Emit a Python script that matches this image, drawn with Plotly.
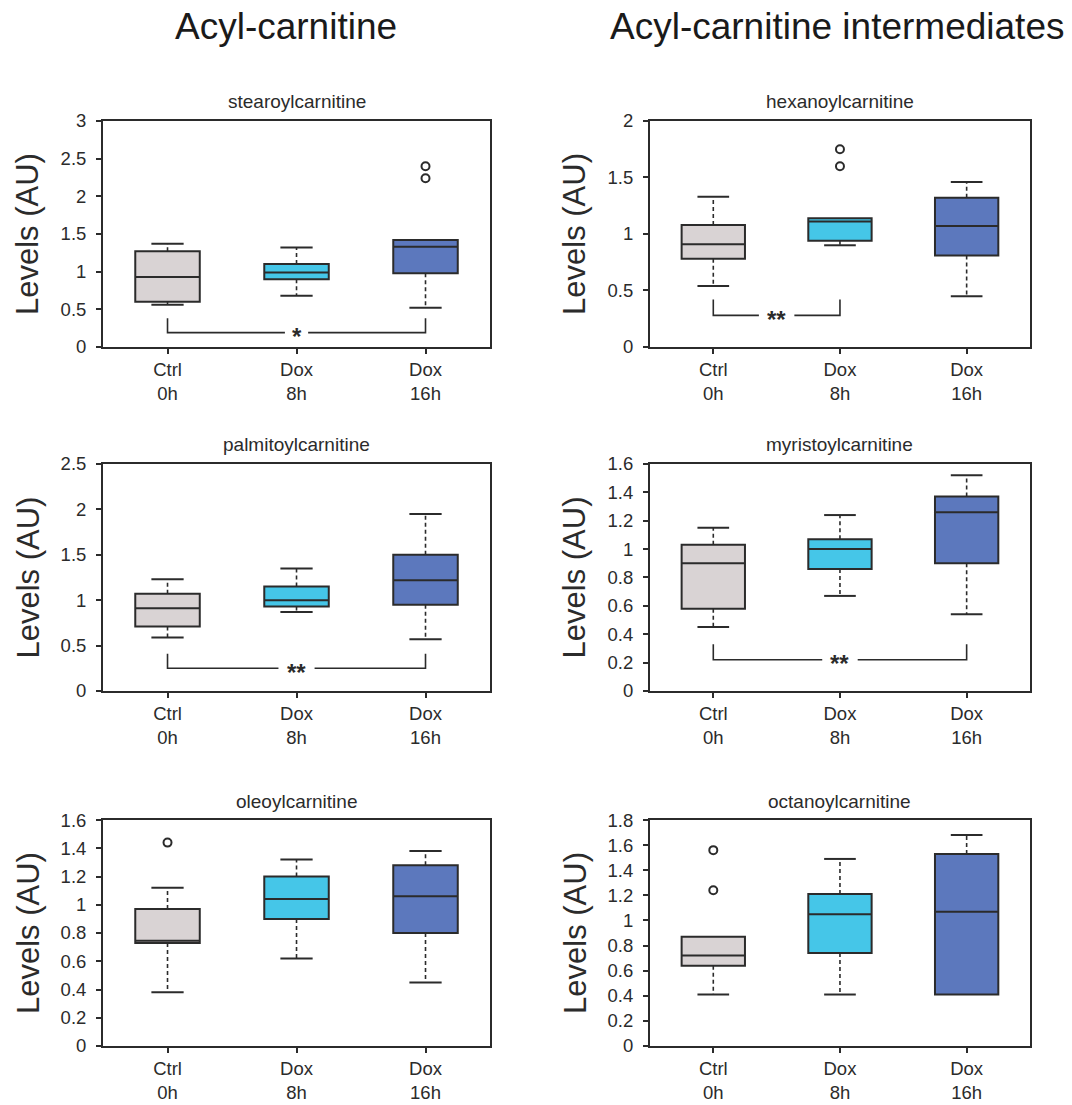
import plotly.graph_objects as go

# ---------------- data ----------------
groups = ["Ctrl<br>0h", "Dox<br>8h", "Dox<br>16h"]
panel_names = ["stearoylcarnitine", "hexanoylcarnitine", "palmitoylcarnitine",
               "myristoylcarnitine", "oleoylcarnitine", "octanoylcarnitine"]

stearoyl_q1 = [0.60, 0.90, 0.98]
stearoyl_med = [0.93, 0.99, 1.33]
stearoyl_q3 = [1.27, 1.10, 1.42]
stearoyl_lo = [0.56, 0.68, 0.52]
stearoyl_hi = [1.37, 1.32, 1.42]
stearoyl_out = [[], [], [2.40, 2.24]]

hexanoyl_q1 = [0.78, 0.94, 0.81]
hexanoyl_med = [0.91, 1.11, 1.07]
hexanoyl_q3 = [1.08, 1.14, 1.32]
hexanoyl_lo = [0.54, 0.90, 0.45]
hexanoyl_hi = [1.33, 1.14, 1.46]
hexanoyl_out = [[], [1.75, 1.60], []]

palmitoyl_q1 = [0.71, 0.93, 0.95]
palmitoyl_med = [0.91, 1.00, 1.22]
palmitoyl_q3 = [1.07, 1.15, 1.50]
palmitoyl_lo = [0.59, 0.87, 0.57]
palmitoyl_hi = [1.23, 1.35, 1.95]
palmitoyl_out = [[], [], []]

myristoyl_q1 = [0.58, 0.86, 0.90]
myristoyl_med = [0.90, 1.00, 1.26]
myristoyl_q3 = [1.03, 1.07, 1.37]
myristoyl_lo = [0.45, 0.67, 0.54]
myristoyl_hi = [1.15, 1.24, 1.52]
myristoyl_out = [[], [], []]

oleoyl_q1 = [0.73, 0.90, 0.80]
oleoyl_med = [0.745, 1.04, 1.06]
oleoyl_q3 = [0.97, 1.20, 1.28]
oleoyl_lo = [0.38, 0.62, 0.45]
oleoyl_hi = [1.12, 1.32, 1.38]
oleoyl_out = [[1.44], [], []]

octanoyl_q1 = [0.64, 0.74, 0.41]
octanoyl_med = [0.72, 1.05, 1.07]
octanoyl_q3 = [0.87, 1.21, 1.53]
octanoyl_lo = [0.41, 0.41, 0.41]
octanoyl_hi = [0.87, 1.49, 1.68]
octanoyl_out = [[1.56, 1.24], [], []]

y_max = [3, 2, 2.5, 1.6, 1.6, 1.8]
y_dtick = [0.5, 0.5, 0.5, 0.2, 0.2, 0.2]

# significance brackets: (panel, group a, group b, label, tick top, line level)
sig_panel = [0, 1, 2, 3]
sig_a = [0, 0, 0, 0]
sig_b = [2, 1, 2, 2]
sig_label = ["*", "**", "**", "**"]
sig_top = [0.38, 0.42, 0.41, 0.33]
sig_line = [0.19, 0.28, 0.25, 0.22]

panels = [
    (stearoyl_q1, stearoyl_med, stearoyl_q3, stearoyl_lo, stearoyl_hi, stearoyl_out),
    (hexanoyl_q1, hexanoyl_med, hexanoyl_q3, hexanoyl_lo, hexanoyl_hi, hexanoyl_out),
    (palmitoyl_q1, palmitoyl_med, palmitoyl_q3, palmitoyl_lo, palmitoyl_hi, palmitoyl_out),
    (myristoyl_q1, myristoyl_med, myristoyl_q3, myristoyl_lo, myristoyl_hi, myristoyl_out),
    (oleoyl_q1, oleoyl_med, oleoyl_q3, oleoyl_lo, oleoyl_hi, oleoyl_out),
    (octanoyl_q1, octanoyl_med, octanoyl_q3, octanoyl_lo, octanoyl_hi, octanoyl_out),
]

# ---------------- styles ----------------
box_colors = ["#D9D3D4", "#45C6E8", "#5C78BD"]
ink = "#2B2B2B"
FONT = "Arial, Liberation Sans, sans-serif"
BOX_W = 0.5
CAP_W = 0.25
GAP_PER_STAR = 0.05  # half-gap in category units per star

xdom = [[0.0961, 0.4571], [0.6063, 0.9608]]
ydom = [[0.6860, 0.8905], [0.3747, 0.5801], [0.0534, 0.2579]]

fig = go.Figure()
annotations = []

for k, (q1, med, q3, lo, hi, outs) in enumerate(panels):
    xa = "x" if k == 0 else f"x{k+1}"
    ya = "y" if k == 0 else f"y{k+1}"
    for i in range(3):
        fig.add_trace(go.Box(
            x=[i], q1=[q1[i]], median=[med[i]], q3=[q3[i]],
            lowerfence=[q1[i]], upperfence=[q3[i]],
            width=BOX_W, whiskerwidth=0, fillcolor=box_colors[i],
            line=dict(color=ink, width=2), boxpoints=False,
            xaxis=xa, yaxis=ya, showlegend=False, hoverinfo="skip"))
        for a, b in ((q3[i], hi[i]), (q1[i], lo[i])):
            if abs(b - a) > 1e-9:
                fig.add_trace(go.Scatter(
                    x=[i, i], y=[a, b], mode="lines",
                    line=dict(color=ink, width=1.6, dash="4px,3px"),
                    xaxis=xa, yaxis=ya, showlegend=False, hoverinfo="skip"))
                fig.add_trace(go.Scatter(
                    x=[i - CAP_W / 2, i + CAP_W / 2], y=[b, b], mode="lines",
                    line=dict(color=ink, width=2),
                    xaxis=xa, yaxis=ya, showlegend=False, hoverinfo="skip"))
        if outs[i]:
            fig.add_trace(go.Scatter(
                x=[i] * len(outs[i]), y=outs[i], mode="markers",
                marker=dict(symbol="circle-open", size=8, color=ink,
                            line=dict(width=2, color=ink)),
                xaxis=xa, yaxis=ya, showlegend=False, hoverinfo="skip"))

# significance brackets
for p, a, b, lab, top, lvl in zip(sig_panel, sig_a, sig_b, sig_label, sig_top, sig_line):
    xa = "x" if p == 0 else f"x{p+1}"
    ya = "y" if p == 0 else f"y{p+1}"
    mid = (a + b) / 2
    g = GAP_PER_STAR * (len(lab) + 0.8)
    fig.add_trace(go.Scatter(
        x=[a, a, mid - g, None, mid + g, b, b],
        y=[top, lvl, lvl, None, lvl, lvl, top], mode="lines",
        line=dict(color=ink, width=1.6),
        xaxis=xa, yaxis=ya, showlegend=False, hoverinfo="skip"))
    annotations.append(dict(
        x=mid, y=lvl, xref=xa, yref=ya, text=f"<b>{lab}</b>", showarrow=False,
        xanchor="center", yanchor="middle",
        font=dict(family=FONT, size=24, color=ink), yshift=-4))

layout = dict(
    template="none",
    width=1072, height=1105, autosize=False,
    plot_bgcolor="white", paper_bgcolor="white",
    margin=dict(l=0, r=0, t=0, b=0, pad=0), font=dict(family=FONT, color=ink),
    showlegend=False,
)

for k in range(6):
    r, c = k // 2, k % 2
    xn = "xaxis" if k == 0 else f"xaxis{k+1}"
    yn = "yaxis" if k == 0 else f"yaxis{k+1}"
    ya = "y" if k == 0 else f"y{k+1}"
    xa = "x" if k == 0 else f"x{k+1}"
    layout[xn] = dict(
        domain=xdom[c], anchor=ya, range=[-0.5, 2.5], automargin=False,
        tickmode="array", tickvals=[0, 1, 2], ticktext=groups,
        showline=True, mirror=True, linecolor=ink, linewidth=2,
        ticks="outside", ticklen=5, tickwidth=2, tickcolor=ink,
        showgrid=False, zeroline=False,
        tickfont=dict(family=FONT, size=18.5, color=ink))
    layout[yn] = dict(
        domain=ydom[r], anchor=xa, range=[0, y_max[k]], dtick=y_dtick[k],
        tick0=0, automargin=False,
        showline=True, mirror=True, linecolor=ink, linewidth=2,
        ticks="outside", ticklen=5, tickwidth=2, tickcolor=ink,
        showgrid=False, zeroline=False, ticklabelstandoff=6,
        tickfont=dict(family=FONT, size=18.5, color=ink))
    annotations.append(dict(
        x=sum(xdom[c]) / 2, y=ydom[r][1], xref="paper", yref="paper",
        text=panel_names[k], showarrow=False, xanchor="center",
        yanchor="middle", yshift=19,
        font=dict(family=FONT, size=19, color=ink)))
    annotations.append(dict(
        x=xdom[c][0], y=sum(ydom[r]) / 2, xref="paper", yref="paper",
        text="Levels (AU)", showarrow=False, textangle=-90,
        xanchor="center", yanchor="middle", xshift=-75,
        font=dict(family=FONT, size=31, color=ink)))

annotations.append(dict(
    x=285.5 / 1072, y=1 - 26 / 1105, xref="paper", yref="paper",
    text="Acyl-carnitine", showarrow=False, xanchor="center", yanchor="middle",
    font=dict(family=FONT, size=37, color="#1a1a1a")))
annotations.append(dict(
    x=836.5 / 1072, y=1 - 26 / 1105, xref="paper", yref="paper",
    text="Acyl-carnitine intermediates", showarrow=False, xanchor="center",
    yanchor="middle", font=dict(family=FONT, size=37, color="#1a1a1a")))

layout["annotations"] = annotations
fig.update_layout(**layout)

post = (
    "document.documentElement.style.margin='0';"
    "document.documentElement.style.overflow='hidden';"
    "document.body.style.margin='0';"
    "document.body.style.overflow='hidden';"
    "var d=document.getElementById('{plot_id}');"
    "d.style.position='absolute';d.style.left='0px';d.style.top='0px';"
)
fig.write_html("out.html", config={"displayModeBar": False}, post_script=post)
